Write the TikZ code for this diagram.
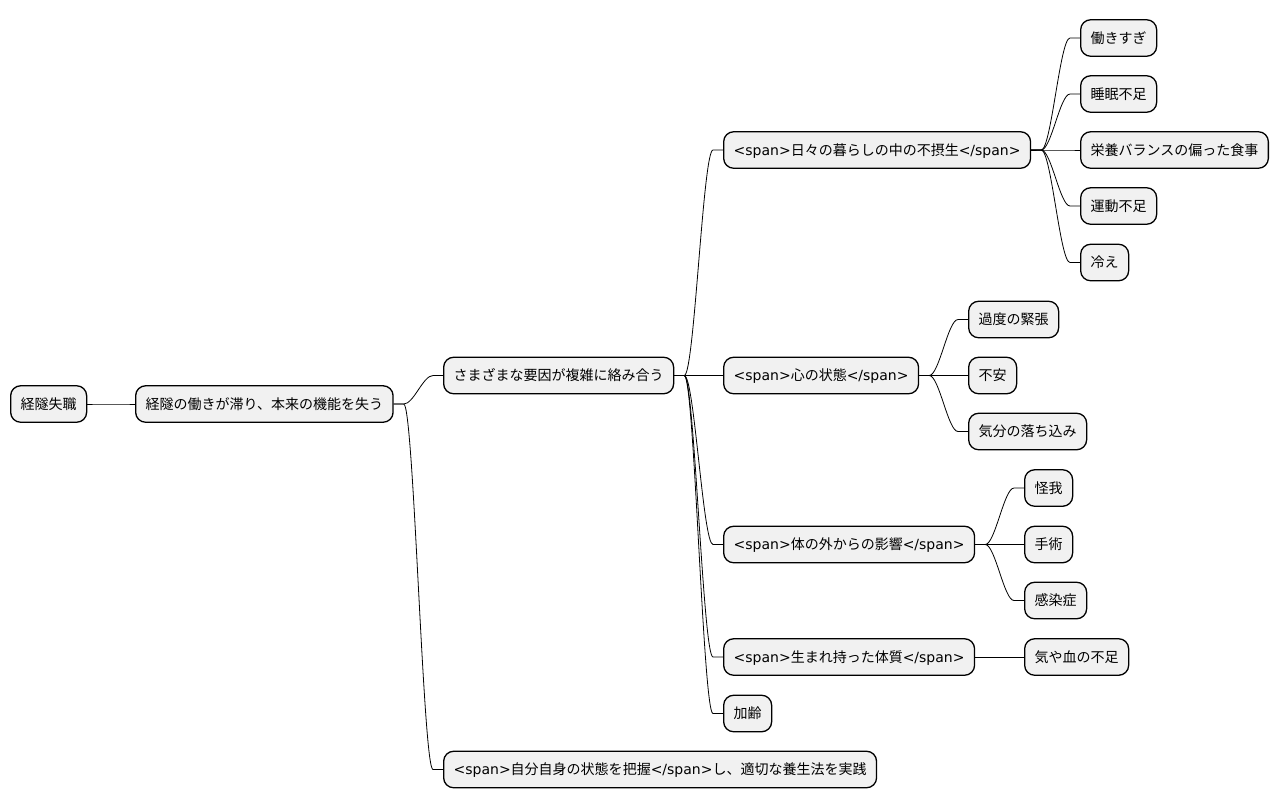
\documentclass[tikz,border=0pt]{standalone}
\usepackage{fontspec}
\setmainfont{DejaVu Sans}
\newfontfamily\cjk{Noto Sans CJK JP}
\definecolor{boxfill}{HTML}{F1F1F1}
\tikzset{
  mmbox/.style={draw=black, fill=boxfill, line width=1.3pt, rounded corners=10pt,
    anchor=west, inner xsep=10pt, inner ysep=0pt, minimum height=36.5pt,
    text height=12pt, text depth=2pt, font=\fontsize{14pt}{16pt}\selectfont},
  mmline/.style={draw=black, line width=0.8pt}
}
\newcommand\mmedge[2]{\draw[mmline] (#1.east) -- ++(10,0) .. controls +(10,0) and +(-10,0) .. ([xshift=-10pt]#2.west) -- (#2.west);}
\begin{document}
\begin{tikzpicture}[x=1pt,y=-1pt]
\useasboundingbox (0,0) rectangle (1279,809);
\node[mmbox] (root) at (10,404) {\cjk 経隧失職};
\node[mmbox] (n1) at (135,404) {\cjk 経隧の働きが滞り、本来の機能を失う};
\node[mmbox] (n2) at (443,375.5) {\cjk さまざまな要因が複雑に絡み合う};
\node[mmbox] (n3) at (443,769.5) {<span>{\cjk 自分自身の状態を把握}</span>{\cjk し、適切な養生法を実践}};
\node[mmbox] (a) at (723,150) {<span>{\cjk 日々の暮らしの中の不摂生}</span>};
\node[mmbox] (b) at (723,375.5) {<span>{\cjk 心の状態}</span>};
\node[mmbox] (c) at (723,544.5) {<span>{\cjk 体の外からの影響}</span>};
\node[mmbox] (d) at (723,657) {<span>{\cjk 生まれ持った体質}</span>};
\node[mmbox] (e) at (723,713.5) {\cjk 加齢};
\node[mmbox] (a1) at (1080,38) {\cjk 働きすぎ};
\node[mmbox] (a2) at (1080,94) {\cjk 睡眠不足};
\node[mmbox] (a3) at (1080,150) {\cjk 栄養バランスの偏った食事};
\node[mmbox] (a4) at (1080,206) {\cjk 運動不足};
\node[mmbox] (a5) at (1080,262.5) {\cjk 冷え};
\node[mmbox] (b1) at (968,319.5) {\cjk 過度の緊張};
\node[mmbox] (b2) at (968,375.5) {\cjk 不安};
\node[mmbox] (b3) at (968,431.5) {\cjk 気分の落ち込み};
\node[mmbox] (c1) at (1024,488) {\cjk 怪我};
\node[mmbox] (c2) at (1024,544.5) {\cjk 手術};
\node[mmbox] (c3) at (1024,600.5) {\cjk 感染症};
\node[mmbox] (d1) at (1024,657) {\cjk 気や血の不足};
\mmedge{root}{n1}
\mmedge{n1}{n2}
\mmedge{n1}{n3}
\mmedge{n2}{a}
\mmedge{n2}{b}
\mmedge{n2}{c}
\mmedge{n2}{d}
\mmedge{n2}{e}
\mmedge{a}{a1}
\mmedge{a}{a2}
\mmedge{a}{a3}
\mmedge{a}{a4}
\mmedge{a}{a5}
\mmedge{b}{b1}
\mmedge{b}{b2}
\mmedge{b}{b3}
\mmedge{c}{c1}
\mmedge{c}{c2}
\mmedge{c}{c3}
\mmedge{d}{d1}
\end{tikzpicture}
\end{document}
